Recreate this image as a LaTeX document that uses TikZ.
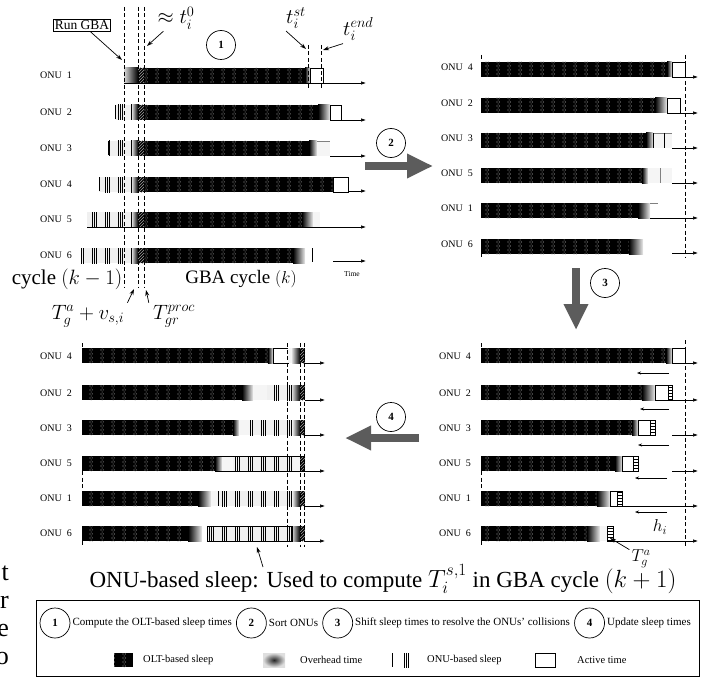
\documentclass[tikz,border=0pt]{standalone}
\usepackage{fontspec}
\setmainfont{Liberation Serif}
\usepackage{amsmath}
\usetikzlibrary{arrows.meta,positioning,patterns}
\definecolor{arrowgray}{rgb}{0.36,0.36,0.36}

\pgfdeclarepatternformonly{oltdots}{\pgfqpoint{-1pt}{-1pt}}{\pgfqpoint{12pt}{5pt}}{\pgfqpoint{11pt}{4pt}}{%
  \pgfpathcircle{\pgfqpoint{2pt}{1pt}}{0.55pt}
  \pgfpathcircle{\pgfqpoint{4.2pt}{1pt}}{0.55pt}
  \pgfpathcircle{\pgfqpoint{3.1pt}{3pt}}{0.55pt}
  \pgfusepath{fill}}
\pgfdeclarepatternformonly{onulines}{\pgfqpoint{0pt}{-1pt}}{\pgfqpoint{13pt}{101pt}}{\pgfqpoint{13pt}{100pt}}{%
  \pgfpathrectangle{\pgfqpoint{1pt}{-1pt}}{\pgfqpoint{0.9pt}{102pt}}
  \pgfpathrectangle{\pgfqpoint{3pt}{-1pt}}{\pgfqpoint{0.9pt}{102pt}}
  \pgfpathrectangle{\pgfqpoint{5pt}{-1pt}}{\pgfqpoint{0.9pt}{102pt}}
  \pgfusepath{fill}}
\newcommand{\barseg}[4]{\path[#1] (#2,#4) rectangle (#3,#4+15);}

\begin{document}
\begin{tikzpicture}[x=1pt, y=-1pt,
  lbl/.style={font=\fontsize{10}{11}\selectfont, inner sep=0pt},
  numcirc/.style={draw, circle, line width=0.7pt, minimum size=29pt, inner sep=0pt,
  font=\fontsize{11}{12}\selectfont\bfseries},
  olt/.style={fill=black, postaction={pattern=oltdots, pattern color=gray!75}},
  ovhin/.style={left color=gray!30, right color=black},
  ovhout/.style={left color=black, right color=gray!15},
  onus/.style={fill=gray!12, postaction={pattern=onulines}},
  hatch/.style={fill=black, postaction={pattern=north east lines, pattern color=gray!75}},
  act/.style={draw=black, fill=white, line width=0.6pt},
  light/.style={fill=gray!8},
  gtime/.style={draw=black, line width=0.4pt, fill=white, postaction={pattern=horizontal lines}},
  axis/.style={-{Latex[length=5pt,width=3.5pt]}, line width=0.6pt},
  note/.style={-{Stealth[length=6pt,width=4pt]}, line width=0.7pt},
  vdash/.style={dashed, line width=0.6pt, dash pattern=on 4pt off 2.5pt},
  bigarrow/.style={draw=arrowgray, line width=8pt, -{Triangle[length=26pt,width=23pt]}},
  big/.style={font=\fontsize{19}{22}\selectfont, inner sep=0pt},
  mathlbl/.style={font=\fontsize{22}{24}\selectfont, inner sep=0pt},
  legtxt/.style={font=\fontsize{11}{12}\selectfont, inner sep=1pt}
]
\useasboundingbox (0,0) rectangle (719,679);

% panel 1: OLT-based sleep times
\barseg{ovhin}{124}{138}{68} \barseg{hatch}{138}{144}{68} \barseg{olt}{144}{305}{68}
\barseg{ovhout}{305}{310}{68} \barseg{act}{310}{323}{68}
\barseg{onus}{115}{132}{105} \barseg{ovhin}{132}{138}{105} \barseg{hatch}{138}{144}{105}
\barseg{olt}{144}{318}{105} \barseg{ovhout}{318}{330}{105} \barseg{act}{330}{341}{105}
\barseg{onus}{108}{132}{141} \barseg{ovhin}{132}{138}{141} \barseg{hatch}{138}{144}{141}
\barseg{olt}{144}{309}{141} \barseg{ovhout}{309}{317}{141} \barseg{light}{317}{330}{141}
\barseg{onus}{99}{132}{177} \barseg{ovhin}{132}{138}{177} \barseg{hatch}{138}{144}{177}
\barseg{olt}{144}{333}{177} \barseg{act}{333}{348}{177}
\barseg{onus}{87}{132}{212} \barseg{ovhin}{132}{138}{212} \barseg{hatch}{138}{144}{212}
\barseg{olt}{144}{302}{212} \barseg{ovhout}{302}{313}{212} \barseg{light}{313}{320}{212}
\barseg{onus}{81}{132}{248} \barseg{ovhin}{132}{138}{248} \barseg{hatch}{138}{144}{248}
\barseg{olt}{144}{293}{248} \barseg{ovhout}{293}{305}{248}
\foreach \xs/\yt in {115/105, 108/141, 99/177, 81/248, 312/248}
  \draw[line width=1pt] (\xs,\yt) -- (\xs,\yt+14);
\draw[gray] (317,141) -- (330,141);
\draw[axis] (124,83) -- (366,83);
\draw[axis] (330,120) -- (366,120);
\draw[axis] (330,156) -- (366,156);
\draw[axis] (348,191) -- (366,191);
\draw[axis] (87,227) -- (366,227);
\draw[axis] (333,261) -- (366,261);
\foreach \xd in {124,138,144}
  \draw[vdash] (\xd,7) -- (\xd,287);
\foreach \xd in {308,321}
  \draw[vdash] (\xd,45) -- (\xd,90);

\node[lbl] (a1) at (56,75) {ONU\ \ 1};
\node[lbl] (a2) at (56,112) {ONU\ \ 2};
\node[lbl] (a3) at (56,148) {ONU\ \ 3};
\node[lbl] (a4) at (56,184) {ONU\ \ 4};
\node[lbl] (a5) at (56,219) {ONU\ \ 5};
\node[lbl] (a6) at (56,255) {ONU\ \ 6};

\node[draw, line width=0.6pt, font=\fontsize{13.5}{14}\selectfont, inner sep=1.5pt] (rungba) at (82,25) {Run GBA};
\coordinate (gbapt) at (122,60);
\draw[note] ([xshift=8pt]rungba.south) -- (gbapt);
\node[mathlbl] (tzero) at (176,18) {$\approx t_i^0$};
\coordinate (zeropt) at (147,46);
\draw[note] ([xshift=6pt,yshift=-2pt]tzero.south west) -- (zeropt);
\node[numcirc] (s1) at (221,45) {1};
\node[mathlbl] (tst) at (296,18) {$t_i^{st}$};
\coordinate (stpt) at (306,49);
\draw[note] ([yshift=-2pt]tst.south west) -- (stpt);
\node[mathlbl, anchor=west] (tend) at (343,29) {$t_i^{end}$};
\coordinate (endpt) at (323,50);
\draw[note] ([yshift=-3pt]tend.south west) -- (endpt);

\node[big, font=\fontsize{21}{24}\selectfont] (prevc) at (67,279) {cycle $(k-1)$};
\node[big] (curc) at (241,279) {GBA cycle $(k)$};
\node[font=\fontsize{7.5}{9}\selectfont, inner sep=0pt] (tlab) at (352,274) {Time};
\node[big, font=\fontsize{20}{22}\selectfont] (tga) at (88,316) {$T_g^a+v_{s,i}$};
\node[big, font=\fontsize{20}{22}\selectfont] (tproc) at (174,316) {$T_{gr}^{proc}$};
\coordinate (gapt) at (134,289);
\coordinate (procpt) at (146,290);
\draw[note] ([xshift=3pt,yshift=2pt]tga.north east) -- (gapt);
\draw[note] ([xshift=-4pt,yshift=2pt]tproc.north west) -- (procpt);

% panel 2: sorted ONUs
\barseg{olt}{481}{667}{62} \barseg{ovhout}{667}{672}{62} \barseg{act}{672}{685}{62}
\barseg{olt}{481}{655}{98} \barseg{ovhout}{655}{667}{98} \barseg{act}{667}{680}{98}
\barseg{olt}{481}{646}{133} \barseg{ovhout}{646}{653}{133} \barseg{light}{653}{672}{133}
\barseg{olt}{481}{642}{168} \barseg{ovhout}{642}{648}{168} \barseg{light}{648}{672}{168}
\barseg{olt}{481}{638}{203} \barseg{ovhout}{638}{650}{203}
\barseg{olt}{481}{629}{239} \barseg{ovhout}{629}{643}{239}
\draw[gray] (653,133) -- (672,133);
\draw (653,133) -- (653,148) (664,133) -- (664,148);
\draw[gray] (660,168) -- (660,183);
\draw[gray] (650,203) -- (658,203);
\draw (650,218) -- (672,218);
\foreach \yb in {77,113,148,183,218,253}
  \draw[axis] (672,\yb) -- (698,\yb);
\draw[vdash] (685,55) -- (685,258);
\draw[vdash] (481,55) -- (481,60) (481,253) -- (481,258);
\node[lbl] (b4) at (457,67) {ONU\ \ 4};
\node[lbl] (b2) at (457,103) {ONU\ \ 2};
\node[lbl] (b3) at (457,138) {ONU\ \ 3};
\node[lbl] (b5) at (457,173) {ONU\ \ 5};
\node[lbl] (b1) at (457,208) {ONU\ \ 1};
\node[lbl] (b6) at (457,244) {ONU\ \ 6};

% panel 3: shifted sleep times
\barseg{olt}{481}{666}{348} \barseg{ovhout}{666}{672}{348} \barseg{act}{672}{685}{348}
\barseg{olt}{481}{642}{385} \barseg{ovhout}{642}{655}{385} \barseg{act}{655}{668}{385} \barseg{gtime}{668}{672}{385}
\barseg{olt}{481}{632}{420} \barseg{ovhout}{632}{638}{420} \barseg{act}{638}{650}{420} \barseg{gtime}{650}{655}{420}
\barseg{olt}{481}{615}{456} \barseg{ovhout}{615}{622}{456} \barseg{act}{622}{633}{456} \barseg{gtime}{633}{638}{456}
\barseg{olt}{481}{597}{491} \barseg{ovhout}{597}{610}{491} \barseg{act}{610}{617}{491} \barseg{gtime}{617}{622}{491}
\barseg{olt}{481}{587}{526} \barseg{ovhout}{587}{600}{526} \barseg{light}{600}{607}{526} \barseg{gtime}{607}{613}{526}
\draw[axis] (685,363) -- (698,363);
\foreach \yb in {400,435,471}
  \draw[axis] (672,\yb) -- (698,\yb);
\draw[axis] (622,506) -- (698,506);
\draw[axis] (613,541) -- (698,541);
\foreach \yl/\xa/\xb in {373/669/637, 409/669/640, 445/669/638, 478/667/635, 512/667/635}
  \draw[-{Stealth[length=4pt,width=3pt]}, line width=0.6pt] (\xa,\yl) -- (\xb,\yl);
\draw[vdash] (685,340) -- (685,547);
\draw[vdash] (481,343) -- (481,348) (481,471) -- (481,490) (481,541) -- (481,547);
\node[lbl] (c4) at (455,356) {ONU\ \ 4};
\node[lbl] (c2) at (455,393) {ONU\ \ 2};
\node[lbl] (c3) at (455,428) {ONU\ \ 3};
\node[lbl] (c5) at (455,463) {ONU\ \ 5};
\node[lbl] (c1) at (455,498) {ONU\ \ 1};
\node[lbl] (c6) at (455,533) {ONU\ \ 6};
\node[big, font=\fontsize{18}{20}\selectfont] (hlab) at (660,527) {$h_i$};
\node[big, font=\fontsize{18}{20}\selectfont] (tgb) at (641,559) {$T_g^a$};
\coordinate (gtpt) at (610,538);
\draw[note] ([xshift=-2pt]tgb.north west) -- (gtpt);

% panel 4: updated sleep times
\barseg{olt}{82}{268}{348} \barseg{ovhout}{268}{273}{348} \barseg{act}{273}{288}{348}
\barseg{light}{288}{292}{348} \barseg{ovhin}{292}{300}{348} \barseg{hatch}{300}{305}{348}
\barseg{olt}{82}{242}{385} \barseg{ovhout}{242}{253}{385} \barseg{light}{253}{267}{385}
\barseg{onus}{267}{292}{385} \barseg{ovhin}{292}{300}{385} \barseg{hatch}{300}{305}{385}
\barseg{olt}{82}{233}{420} \barseg{ovhout}{233}{239}{420} \barseg{light}{239}{250}{420}
\barseg{onus}{250}{293}{420} \barseg{ovhin}{293}{300}{420} \barseg{hatch}{300}{305}{420}
\barseg{olt}{82}{215}{456} \barseg{ovhout}{215}{222}{456} \barseg{light}{222}{233}{456}
\barseg{onus}{233}{293}{456} \barseg{light}{293}{300}{456} \barseg{hatch}{300}{305}{456}
\barseg{olt}{82}{198}{491} \barseg{ovhout}{198}{211}{491} \barseg{light}{211}{218}{491}
\barseg{onus}{218}{293}{491} \barseg{ovhin}{293}{300}{491} \barseg{hatch}{300}{305}{491}
\barseg{olt}{82}{188}{526} \barseg{ovhout}{188}{202}{526}
\barseg{onus}{207}{292}{526} \barseg{ovhin}{292}{300}{526} \barseg{hatch}{300}{305}{526}
\draw[line width=0.8pt] (207,526) rectangle (292,541);
\draw[line width=0.8pt] (218,491) -- (218,506);
\draw (215,456) -- (305,456) (215,471) -- (305,471);
\foreach \yb in {363,400,435,471,506,541}
  \draw[axis] (305,\yb) -- (325,\yb);
\foreach \xd in {287,300,304}
  \draw[vdash] (\xd,343) -- (\xd,547);
\draw[vdash] (82,343) -- (82,348) (82,471) -- (82,490) (82,541) -- (82,547);
\node[lbl] (d4) at (56,356) {ONU\ \ 4};
\node[lbl] (d2) at (56,393) {ONU\ \ 2};
\node[lbl] (d3) at (56,428) {ONU\ \ 3};
\node[lbl] (d5) at (56,463) {ONU\ \ 5};
\node[lbl] (d1) at (56,498) {ONU\ \ 1};
\node[lbl] (d6) at (56,533) {ONU\ \ 6};
\node[big, font=\fontsize{23}{25}\selectfont] (cap) at (383,579) {ONU-based sleep: Used to compute $T_i^{s,1}$ in GBA cycle $(k+1)$};
\coordinate (onupt) at (257,547);
\draw[note] (263,567) -- (onupt);

% steps between the panels
\coordinate (m2a) at (365,166); \coordinate (m2b) at (433,166);
\coordinate (m3a) at (576,268); \coordinate (m3b) at (576,330);
\coordinate (m4a) at (419,438); \coordinate (m4b) at (345,438);
\draw[bigarrow] (m2a) -- (m2b);
\draw[bigarrow] (m3a) -- (m3b);
\draw[bigarrow] (m4a) -- (m4b);
\node[numcirc] (s2) at (391,143) {2};
\node[numcirc] (s3) at (605,283) {3};
\node[numcirc] (s4) at (391,417) {4};

% legend
\draw[line width=0.8pt] (36,600) rectangle (699,676);
\node[numcirc, minimum size=30pt] (k1) at (55,623) {1};
\node[legtxt, right=1pt of k1] (k1t) {Compute the OLT-based sleep times};
\node[numcirc, minimum size=30pt, right=3pt of k1t] (k2) {2};
\node[legtxt, right=1pt of k2] (k2t) {Sort ONUs};
\node[numcirc, minimum size=30pt, right=3pt of k2t] (k3) {3};
\node[legtxt, right=1pt of k3] (k3t) {Shift sleep times to resolve the ONUs' collisions};
\node[numcirc, minimum size=30pt, right=3pt of k3t] (k4) {4};
\node[legtxt, right=1pt of k4] (k4t) {Update sleep times};
\path[olt] (114,653) rectangle (133,667);
\node[legtxt, font=\fontsize{10.5}{12}\selectfont, anchor=west] (e1) at (142,660) {OLT-based sleep};
\path[inner color=black!85, outer color=gray!25] (263,653) rectangle (285,667);
\node[legtxt, font=\fontsize{10.5}{12}\selectfont, anchor=west] (e2) at (299,660) {Overhead time};
\draw[line width=0.8pt] (392,653) -- (392,667);
\path[fill=white, postaction={pattern=onulines}] (398,653) rectangle (412,667);
\node[legtxt, font=\fontsize{10.5}{12}\selectfont, anchor=west] (e3) at (426,660) {ONU-based sleep};
\draw[line width=0.6pt] (535,653) rectangle (555,667);
\node[legtxt, font=\fontsize{10.5}{12}\selectfont, anchor=west] (e4) at (576,660) {Active time};

% cut text of the next column
\foreach \yf/\ch in {573/t, 602/r, 630/e, 658/o}
  \node[anchor=east, inner sep=0pt, font=\fontsize{26}{28}\selectfont] at (9,\yf) {\ch};
\end{tikzpicture}
\end{document}
